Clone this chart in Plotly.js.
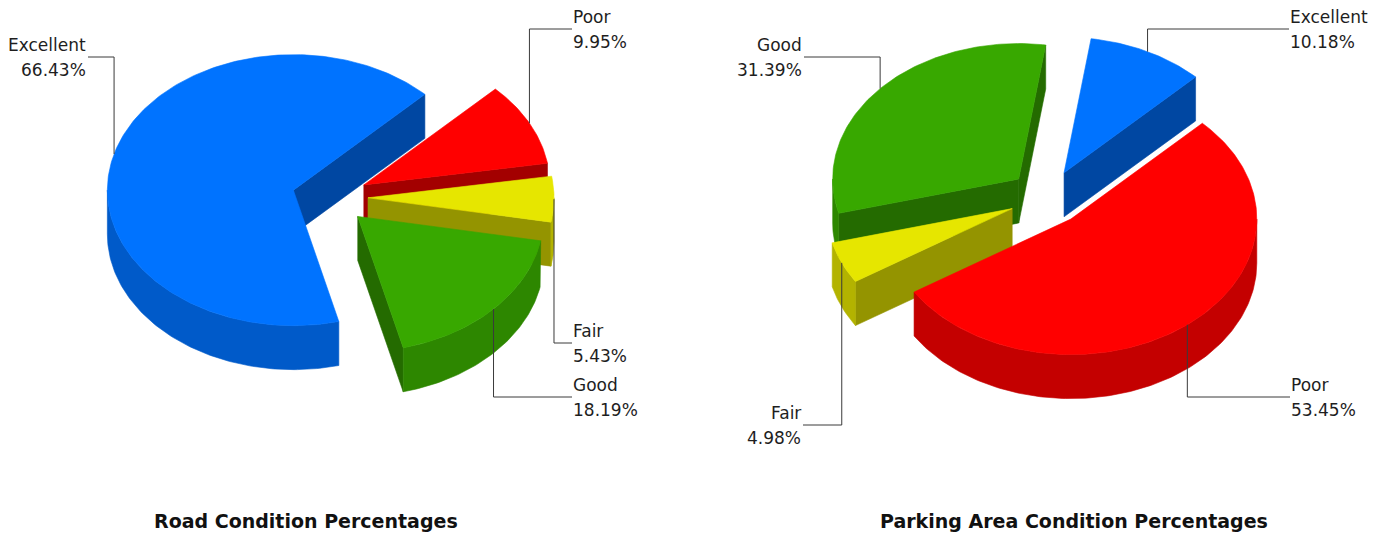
<!DOCTYPE html>
<html>
<head>
<meta charset="utf-8">
<script src="https://cdn.plot.ly/plotly-3.0.1.min.js"></script>
<style>
html,body{margin:0;padding:0;background:#fff;}
#chart{width:1383px;height:535px;}
</style>
</head>
<body>
<div id="chart"></div>
<script>
// ---------- DATA ----------
const categories = ['Excellent', 'Good', 'Fair', 'Poor'];
const roadValues = [66.43, 18.19, 5.43, 9.95];
const parkingValues = [10.18, 31.39, 4.98, 53.45];
const chartTitles = ['Road Condition Percentages', 'Parking Area Condition Percentages'];

// ---------- STYLE / LAYOUT ----------
const W = 1383, H = 535;
const GEOM = {rx: 186, ry: 135.5, depth: 44, explode: 38, startDeg: 45};
const COLORS = {
  Excellent: {top: '#0073FF', outer: '#005AC9', side: '#0047A2'},
  Good:      {top: '#38A800', outer: '#2D8700', side: '#246B00'},
  Fair:      {top: '#E6E600', outer: '#B3B300', side: '#949400'},
  Poor:      {top: '#FF0000', outer: '#C40000', side: '#A30000'}
};
const FONT = '"DejaVu Sans", Lato, sans-serif';
const PIES = [
  {values: roadValues, cx: 330, cy: 197.5, titleX: 306,
   labels: {Excellent: {x: 88, y: 57, side: 'left'}, Good: {x: 572, y: 397, side: 'right'},
            Fair: {x: 572, y: 343, side: 'right'}, Poor: {x: 572, y: 29, side: 'right'}}},
  {values: parkingValues, cx: 1047, cy: 197.5, titleX: 1074,
   labels: {Excellent: {x: 1289, y: 29, side: 'right'}, Good: {x: 804, y: 57, side: 'left'},
            Fair: {x: 803, y: 425, side: 'left'}, Poor: {x: 1290, y: 397, side: 'right'}}}
];
const TITLE_Y = 521;

// ---------- BUILD ----------
const rad = d => d * Math.PI / 180;
function arcPts(ox, oy, t1, t2, dy) {
  const n = Math.max(2, Math.ceil(Math.abs(t2 - t1)));
  const xs = [], ys = [];
  for (let i = 0; i <= n; i++) {
    const t = rad(t1 + (t2 - t1) * i / n);
    xs.push(ox + GEOM.rx * Math.cos(t));
    ys.push(oy + GEOM.ry * Math.sin(t) - dy);
  }
  return [xs, ys];
}
function poly(xs, ys, color, xa, ya) {
  return {type: 'scatter', mode: 'lines', x: xs.concat([xs[0]]), y: ys.concat([ys[0]]),
    fill: 'toself', fillcolor: color, line: {color: color, width: 0.6},
    hoverinfo: 'skip', showlegend: false, xaxis: xa, yaxis: ya};
}

const traces = [];
const annotations = [];
const layoutAxes = {};

PIES.forEach((pie, pi) => {
  const xa = pi === 0 ? 'x' : 'x2', ya = pi === 0 ? 'y' : 'y2';
  const xKey = pi === 0 ? 'xaxis' : 'xaxis2', yKey = pi === 0 ? 'yaxis' : 'yaxis2';
  const pxLeft = pi * W / 2;
  layoutAxes[xKey] = {domain: [pi * 0.5, (pi + 1) * 0.5], range: [pxLeft - pie.cx, pxLeft + W / 2 - pie.cx],
    visible: false, fixedrange: true, anchor: ya};
  layoutAxes[yKey] = {domain: [0, 1], range: [-(H - pie.cy), pie.cy], visible: false, fixedrange: true, anchor: xa};

  const total = pie.values.reduce((s, v) => s + v, 0);
  let acc = GEOM.startDeg;
  const slices = pie.values.map((v, i) => {
    const span = v / total * 360;
    const a = acc, b = acc + span;
    acc = b;
    const m = (a + b) / 2;
    const ox = GEOM.explode * Math.cos(rad(m));
    const oy = GEOM.explode * (GEOM.ry / GEOM.rx) * Math.sin(rad(m));
    return {cat: categories[i], value: v, a, b, m, ox, oy};
  });

  // painter's order: back (sin(mid) high) first
  const order = slices.slice().sort((p, q) => Math.sin(rad(q.m)) - Math.sin(rad(p.m)));
  order.forEach(s => {
    const c = COLORS[s.cat];
    const d = GEOM.depth;
    // radial walls
    [[s.a, Math.cos(rad(s.a)) > 0], [s.b, Math.cos(rad(s.b)) < 0]].forEach(([th, vis]) => {
      if (!vis) return;
      const px = s.ox + GEOM.rx * Math.cos(rad(th)), py = s.oy + GEOM.ry * Math.sin(rad(th));
      traces.push(poly([s.ox, px, px, s.ox], [s.oy, py, py - d, s.oy - d], c.side, xa, ya));
    });
    // outer wall (front half only)
    for (let k = -1; k <= 2; k++) {
      const t1 = Math.max(s.a, 180 + 360 * k), t2 = Math.min(s.b, 360 + 360 * k);
      if (t2 - t1 > 0.01) {
        const [tx, ty] = arcPts(s.ox, s.oy, t1, t2, 0);
        const [bx, by] = arcPts(s.ox, s.oy, t2, t1, d);
        traces.push(poly(tx.concat(bx), ty.concat(by), c.outer, xa, ya));
      }
    }
    // top face
    const [ax, ay] = arcPts(s.ox, s.oy, s.a, s.b, 0);
    traces.push(poly([s.ox].concat(ax), [s.oy].concat(ay), c.top, xa, ya));
  });

  // leader lines and labels
  slices.forEach(s => {
    const L = pie.labels[s.cat];
    const px = s.ox + GEOM.rx * Math.cos(rad(s.m)), py = s.oy + GEOM.ry * Math.sin(rad(s.m));
    const ly = pie.cy - L.y, lx = L.x - pie.cx;
    traces.push({type: 'scatter', mode: 'lines', x: [px, px, lx], y: [py, ly, ly],
      line: {color: '#3a3a3a', width: 1}, hoverinfo: 'skip', showlegend: false, xaxis: xa, yaxis: ya});
    const anchor = L.side === 'left' ? 'right' : 'left';
    const dx = L.side === 'left' ? -1 : 0;
    [[s.cat, 12.5], [s.value.toFixed(2) + '%', -12.5]].forEach(([txt, off]) => {
      annotations.push({xref: xa, yref: ya, x: lx + dx, y: ly + off, text: txt, showarrow: false,
        xanchor: anchor, yanchor: 'middle', align: L.side === 'left' ? 'right' : 'left',
        font: {family: FONT, size: 17, color: '#1e1e1e'}, borderpad: 0});
    });
  });

  annotations.push({xref: 'paper', yref: 'paper', x: pie.titleX / W, y: 1 - TITLE_Y / H,
    text: '<b>' + chartTitles[pi] + '</b>', showarrow: false, xanchor: 'center', yanchor: 'middle',
    font: {family: FONT, size: 19, color: '#111'}});
});

const layout = Object.assign({
  width: W, height: H, margin: {l: 0, r: 0, t: 0, b: 0},
  paper_bgcolor: '#fff', plot_bgcolor: '#fff', showlegend: false,
  annotations: annotations, hovermode: false
}, layoutAxes);

Plotly.newPlot('chart', traces, layout, {staticPlot: true, displayModeBar: false});
</script>
</body>
</html>
